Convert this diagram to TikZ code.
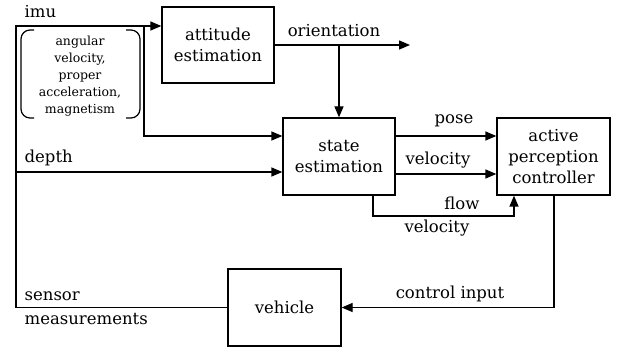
\documentclass[tikz,border=0pt]{standalone}
\usepackage{fontspec}
\setmainfont{DejaVu Serif}
\usetikzlibrary{arrows.meta,calc}
\begin{document}
\begin{tikzpicture}[x=1pt,y=-1pt,
  line width=1.3pt,
  block/.style={draw,line width=1.3pt,align=center,inner sep=0pt,
    font=\fontsize{16.5}{21}\selectfont},
  lbl/.style={inner sep=0pt,font=\fontsize{16.5}{21}\selectfont},
  note/.style={inner sep=0pt,align=center,font=\fontsize{12.5}{17}\selectfont},
  arr/.style={-{Triangle[length=11pt,width=9pt]}}]
\useasboundingbox (0,0) rectangle (618,352);

% blocks
\node[block,minimum width=112pt,minimum height=76pt] (att) at (218,45) {attitude\\estimation};
\node[block,minimum width=112pt,minimum height=77pt] (state) at (339,156.5) {state\\estimation};
\node[block,minimum width=113pt,minimum height=77pt] (apc) at (553.5,156.5) {active\\perception\\controller};
\node[block,minimum width=113pt,minimum height=77pt] (veh) at (284.5,307.5) {vehicle};

% routing points
\coordinate (nw) at (16,26);
\coordinate (sw) at (16,307.5);
\coordinate (br) at (144,26);
\coordinate (dp) at (16,172);
\coordinate (oend) at (410,45);
\coordinate (pz) at (0,136);
\coordinate (vz) at (0,174);
\coordinate (fa) at (373,216);
\coordinate (fb) at (514,216);
\coordinate (cx) at (554,0);

% sensor loop and imu feed
\draw[arr] (veh.west) -- (sw) -- (nw) -- (nw -| att.west);
\draw[arr] (br) |- (state.west |- pz);
\draw[arr] (dp) -- (dp -| state.west);

% orientation
\draw[arr] (att.east) -- (oend);
\draw[arr] (state.north |- att.east) -- (state.north);

% outputs of state estimation
\draw[arr] (state.east |- pz) -- (apc.west |- pz);
\draw[arr] (state.east |- vz) -- (apc.west |- vz);
\draw[arr] (fa |- state.south) |- (fb) -- (fb |- apc.south);

% control input
\draw[arr] (cx |- apc.south) |- (veh.east);

% imu signal bracket
\node[note] (imunote) at (80,76) {angular\\velocity,\\proper\\acceleration,\\magnetism};
\draw[line width=1.2pt,rounded corners=9pt] (34,30) -- (21,30) -- (21,118) -- (34,118);
\draw[line width=1.2pt,rounded corners=9pt] (126,30) -- (140,30) -- (140,118) -- (126,118);

% labels
\node[lbl,anchor=west] (limu) at (24,12) {imu};
\node[lbl] (lori) at (334,31) {orientation};
\node[lbl,anchor=west] (ldepth) at (24,158) {depth};
\node[lbl] (lpose) at (454,121) {pose};
\node[lbl] (lvel) at (438,160) {velocity};
\node[lbl] (lflow) at (462,203) {flow};
\node[lbl] (lfvel) at (437,228) {velocity};
\node[lbl] (lctl) at (450,294) {control input};
\node[lbl,anchor=west] (lsen) at (24,296) {sensor};
\node[lbl,anchor=west] (lmeas) at (24,319) {measurements};
\end{tikzpicture}
\end{document}
